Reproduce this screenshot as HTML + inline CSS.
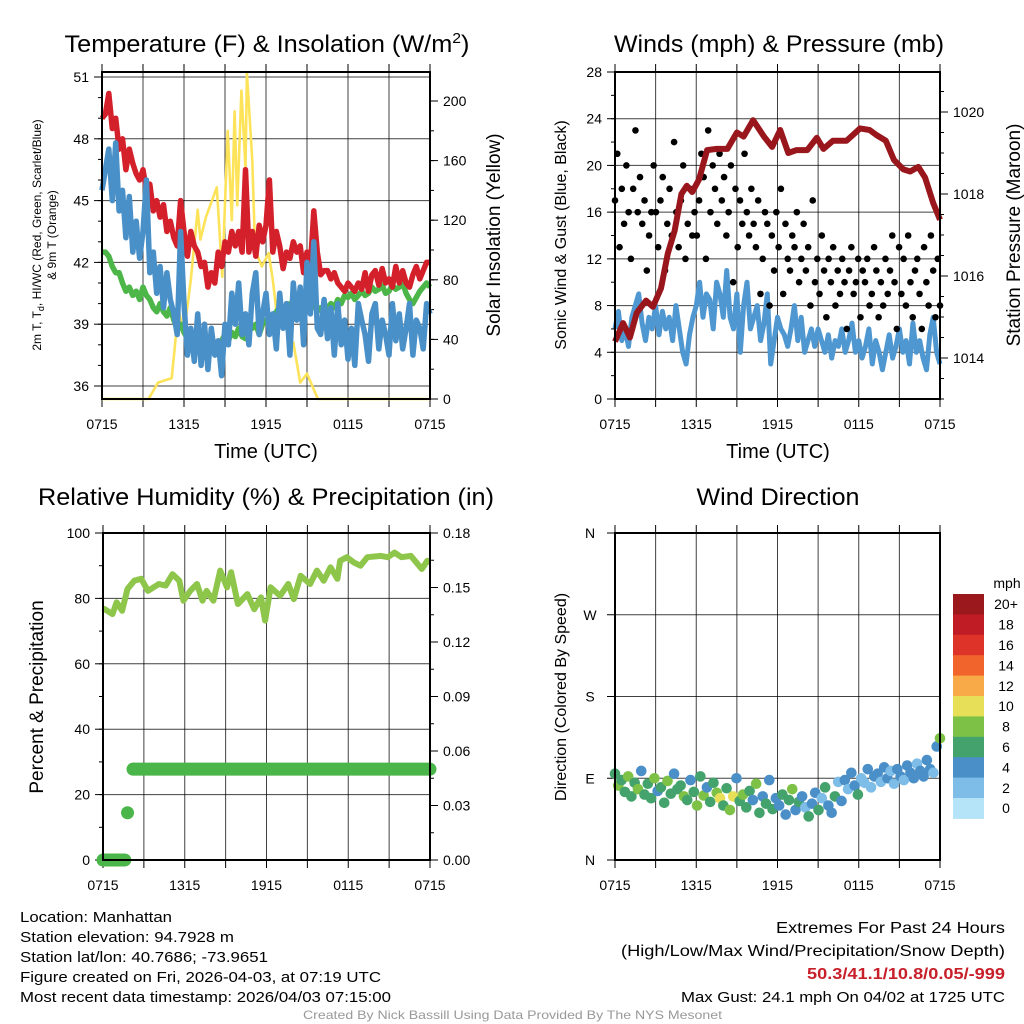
<!DOCTYPE html>
<html><head><meta charset="utf-8"><style>
html,body{margin:0;padding:0;background:#fff;}
svg{display:block;font-family:"Liberation Sans",sans-serif;}
</style></head><body>
<svg id="chart" width="1024" height="1024" viewBox="0 0 1024 1024" xmlns="http://www.w3.org/2000/svg">
<rect width="1024" height="1024" fill="#fff"/>
<g id="layer"></g>
<text x="267" y="52" font-size="24" text-anchor="middle" textLength="405" lengthAdjust="spacingAndGlyphs">Temperature (F) &amp; Insolation (W/m<tspan font-size="15" dy="-9">2</tspan><tspan dy="9">)</tspan></text>
<text x="779" y="52" font-size="24" text-anchor="middle" textLength="330" lengthAdjust="spacingAndGlyphs">Winds (mph) &amp; Pressure (mb)</text>
<text x="266" y="505" font-size="24" text-anchor="middle" textLength="456" lengthAdjust="spacingAndGlyphs">Relative Humidity (%) &amp; Precipitation (in)</text>
<text x="778" y="505" font-size="24" text-anchor="middle" textLength="163" lengthAdjust="spacingAndGlyphs">Wind Direction</text>
<text x="266" y="458" font-size="20" text-anchor="middle">Time (UTC)</text>
<text x="778" y="458" font-size="20" text-anchor="middle">Time (UTC)</text>
<text transform="translate(41,235) rotate(-90)" font-size="12" text-anchor="middle">2m T, T<tspan font-size="9" dy="3">d</tspan><tspan dy="-3">, HI/WC (Red, Green, Scarlet/Blue)</tspan></text>
<text transform="translate(56,235) rotate(-90)" font-size="12" text-anchor="middle">&amp; 9m T (Orange)</text>
<text transform="translate(500,235) rotate(-90)" font-size="19" text-anchor="middle">Solar Insolation (Yellow)</text>
<text transform="translate(566,235) rotate(-90)" font-size="16" text-anchor="middle">Sonic Wind &amp; Gust (Blue, Black)</text>
<text transform="translate(1020,235) rotate(-90)" font-size="19" text-anchor="middle">Station Pressure (Maroon)</text>
<text transform="translate(43,697) rotate(-90)" font-size="19" text-anchor="middle">Percent &amp; Precipitation</text>
<text transform="translate(566,697) rotate(-90)" font-size="16" text-anchor="middle">Direction (Colored By Speed)</text>
<g font-size="15">
<text x="20" y="922" textLength="152" lengthAdjust="spacingAndGlyphs">Location: Manhattan</text>
<text x="20" y="942" textLength="214" lengthAdjust="spacingAndGlyphs">Station elevation: 94.7928 m</text>
<text x="20" y="962" textLength="248" lengthAdjust="spacingAndGlyphs">Station lat/lon: 40.7686; -73.9651</text>
<text x="20" y="982" textLength="361" lengthAdjust="spacingAndGlyphs">Figure created on Fri, 2026-04-03, at 07:19 UTC</text>
<text x="20" y="1002" textLength="371" lengthAdjust="spacingAndGlyphs">Most recent data timestamp: 2026/04/03 07:15:00</text>
</g>
<g font-size="16">
<text x="776" y="933" textLength="229" lengthAdjust="spacingAndGlyphs">Extremes For Past 24 Hours</text>
<text x="621" y="956" textLength="384" lengthAdjust="spacingAndGlyphs">(High/Low/Max Wind/Precipitation/Snow Depth)</text>
<text x="807" y="979" font-weight="bold" fill="#c8202a" textLength="198" lengthAdjust="spacingAndGlyphs">50.3/41.1/10.8/0.05/-999</text>
<text x="681" y="1002" font-size="15" textLength="324" lengthAdjust="spacingAndGlyphs">Max Gust: 24.1 mph On 04/02 at 1725 UTC</text>
</g>
<text x="303" y="1019" font-size="12" fill="#999" textLength="419" lengthAdjust="spacingAndGlyphs">Created By Nick Bassill Using Data Provided By The NYS Mesonet</text>
</svg>
<script>
// ---- data ----
const xTickLabels = ["0715","1315","1915","0115","0715"];
const tempTicks = [36,39,42,45,48,51];
const insolTicks = [0,40,80,120,160,200];
const windTicks = [0,4,8,12,16,20,24,28];
const presTicks = [1014,1016,1018,1020];
const rhTicks = [0,20,40,60,80,100];
const precipTicks = [0,0.03,0.06,0.09,0.12,0.15,0.18];
const precipTickLabels = ["0.00","0.03","0.06","0.09","0.12","0.15","0.18"];
const dirTicks = [0,90,180,270,360];
const dirTickLabels = ["N","E","S","W","N"];
const speedBins = ["0","2","4","6","8","10","12","14","16","18","20+"];
const speedColors = ["#b5e3f8","#7dbde8","#4a8fc7","#44a26c","#7dc247","#e8df58","#f8aa48","#f1652c","#dd3328","#c01c26","#9b181d"];

const tempRed = [49,49.2,50.2,48.5,49,47.5,48,46.5,47.5,46.8,46.3,46,
46.5,45.5,45.8,44.5,45,44.2,44.8,43.5,44,43.2,42.8,45,
43.5,42.3,43.5,42.8,42.5,41.8,42,40.8,41.5,41,42.5,41.8,
43,42.5,43.5,42.8,43.5,42.5,46.5,42.5,43.5,42.3,43.8,43,
43.8,46,42.5,43.5,42.8,41.7,42.5,42.2,43,42.5,42.8,41.5,
42.5,41.8,44.5,42.5,41.4,41.6,41.6,41.2,41.5,41,40.8,40.6,
41,40.8,40.6,41,40.7,41.5,40.6,41.4,41.6,40.9,41.7,41,
41.2,40.8,41.8,41,41.6,41,40.8,41.4,41.8,41.2,41.6,42,42];
const tempGreen = [42.5,42.5,42.3,41.8,41.5,41.5,41,40.6,40.8,40.4,40.6,40.2,
40.8,40.4,40.2,39.8,39.6,40,39.6,39.4,39.8,39.2,38.8,39,
38.6,38.3,38.2,38,37.8,37.6,37.7,37.8,38,37.8,37.6,38.2,
38.5,38.2,38.6,38.4,38.8,38.4,38.3,39,38.8,39,38.5,39,
39.2,39,39.4,39.6,39.8,39.4,39.7,40,39.6,40.2,40.4,40,
40.6,40.2,40,39.6,39.8,39.5,39.8,40,39.8,40.2,40,40.4,
40.3,40.5,40.2,40.4,40.6,40.4,40.5,40.8,40.6,40.7,40.9,40.5,
40.6,40.9,40.7,40.8,41,40.5,40.2,40,40.3,40.6,40.8,41,40.8];
const tempBlue = [45.5,46.5,47.5,45,47.8,44.5,45.5,43.2,45.2,42.5,44,42.2,
43.5,46,41.5,42.5,40.5,41.8,39.8,41.5,40.2,39.5,38.5,43.5,
40,37.5,38.8,37.2,39.5,37,39,36.8,38.8,37.5,38.2,36.5,
39,38,40.5,39,41,38.5,39.5,38,40.5,41.5,38.5,39.5,
40.5,38.5,39.5,37.8,40.5,38.8,40,37.5,41,39.2,40.8,38,
42,39.5,43,38.8,38.5,40.2,38.3,39.8,37.5,40,38,39.2,
37.3,38.8,37,40,39.2,38.5,37.2,39.5,40,37.8,39.2,38.5,
37.5,40,38.2,39.5,37.8,38.8,40,37.5,39.2,38.8,37.8,40,39.5];
const insolHours = [0,3.4,4.1,5.1,5.6,6.0,6.5,7.0,7.2,7.6,8.4,8.8,9.2,9.5,9.7,9.9,10.2,10.5,10.6,11.0,11.2,11.7,12.2,12.5,12.9,13.3,13.8,14.0,14.5,15.0,15.8,24];
const insolValues = [0,0,11,14,60,44,80,127,107,122,142,82,180,120,193,130,207,155,219,160,100,89,98,80,48,58,31,38,11,17,0,0];

const presHours = [0,0.6,1.1,1.6,2.3,2.8,3.4,3.9,4.4,4.9,5.3,5.7,6.2,6.8,7.5,8.3,9.0,9.5,10.2,11.0,11.6,12.2,12.8,13.4,14.2,14.9,15.4,16.1,17.1,18.1,18.8,19.3,20.0,20.6,21.3,21.8,22.4,22.9,23.5,24];
const presValues = [1014.4,1014.85,1014.5,1015.1,1015.4,1015.25,1015.7,1016.55,1017.1,1018,1018.2,1018.05,1018.35,1019.07,1019.1,1019.1,1019.5,1019.4,1019.8,1019.4,1019.15,1019.56,1019.0,1019.07,1019.07,1019.37,1019.1,1019.3,1019.3,1019.6,1019.56,1019.44,1019.3,1018.83,1018.6,1018.55,1018.66,1018.4,1017.78,1017.37];
const windSpeed = [6,7.5,5,6,4.5,7,8,9,6.5,5,7,6,
8,5.5,7.5,6,7,5,8,6,4,3,5.5,7,
8,10,7,9,8.5,6,10,9,7,11,7,6,
9,4,8,10,6,7,8,5,6.5,9,3,5,
7,6,5.5,4.5,6,8,5,7,4,5,6,4.5,
6,5,4,5.5,3.5,5,4.5,6,4,5,6.5,4,
5,3.5,4.5,6,3,5,4,2.5,4,5.5,3.5,4.5,
6,4,5,3,6.5,4,5,3.5,2.5,5.5,7,4,3];
const windGust = [17,21,13,18,15,20,16,12,18,23,16,19,15,17,11,14,16,20,
16,13,17,19,11,15,18,14,22,16,13,17,20,12,15,18,14,16,
14,17,21,19,12,23,16,20,18,15,21,17,19,14,16,20,10,18,
13,17,15,21,16,14,18,15,13,17,9,12,16,15,8,14,11,16,
13,18,9,15,12,11,14,13,16,10,12,15,11,13,8,17,10,12,
9,14,11,7,12,10,13,8,11,9,12,10,6,11,13,9,10,12,
7,11,10,12,8,9,13,11,7,10,8,12,9,11,14,10,6,13,
9,12,8,14,10,7,11,12,9,6,13,10,8,14,11,7,12,8];

const rhHours = [0,0.7,1,1.4,1.8,2.3,2.8,3.3,4.1,4.6,5.1,5.6,5.9,6.4,6.9,7.3,7.6,8.1,8.6,9.1,9.4,9.9,10.6,11.1,11.6,11.9,12.3,13.0,13.6,14.0,14.5,15.2,15.7,16.2,16.7,17.2,17.4,17.9,18.4,18.9,19.4,20.4,20.9,21.4,21.9,22.6,23.4,23.8,24];
const rhValues = [77,75.2,78.8,76.2,82.9,85.4,86,82.3,84.4,83.9,87.4,85.4,79.3,82.3,84.4,79.3,82.3,79.3,88.5,83.4,88,78.3,81.3,76.7,80.3,73.2,83.4,80.8,84.4,79.8,86.9,84.4,88.5,85.4,89.5,86,91.5,92.6,91,90,92.6,93,92.6,94,92.6,93,89,91.5,91];
const precipHours = [0,0.4,0.8,1.2,1.6,1.8,2.2,24];
const precipValues = [0,0,0,0,0,0.026,0.05,0.05];

const dirValues = [95,82,88,75,92,70,85,78,98,72, 84,68,90,76,80,63,87,73,95,78,
82,70,66,88,75,60,92,71,80,64, 85,74,68,60,79,55,70,90,65,72,
58,76,66,84,52,70,62,88,56,68, 60,72,50,66,78,55,64,70,58,48,
62,74,55,68,80,60,52,70,86,65, 88,78,96,82,72,90,85,100,80,92,
95,86,102,90,98,84,100,92,88,104, 96,90,106,98,92,110,100,96,125,134];
const dirSpeeds = [7,8,6,7,9,6,7,8,5,7, 6,7,8,5,7,6,9,7,4,6,
7,8,6,5,7,9,6,8,4,7, 6,9,10,7,6,8,11,5,7,9,
6,7,5,8,6,4,7,5,6,5, 4,6,5,7,8,4,6,5,3,6,
5,4,6,3,7,4,5,6,3,4, 4,3,5,4,6,3,2,4,3,5,
4,3,5,4,3,2,4,5,3,4, 4,5,3,4,4,5,4,3,5,8];

// ---- drawing ----
const NS = "http://www.w3.org/2000/svg";
const layer = document.getElementById("layer");
function mk(tag, attrs, parent){
  const e = document.createElementNS(NS, tag);
  for (const k in attrs) e.setAttribute(k, attrs[k]);
  (parent||layer).appendChild(e);
  return e;
}
function lin(d0,d1,r0,r1){ return v => r0 + (v-d0)*(r1-r0)/(d1-d0); }

const P = {
  temp:{x0:102,x1:430,y0:72,y1:399},
  wind:{x0:615,x1:940,y0:72,y1:399},
  rh:{x0:103,x1:430,y0:533,y1:860},
  dir:{x0:615,x1:940,y0:533,y1:860}
};
function linePath(xs, ys, fx, fy){
  let d = "";
  for (let i=0;i<xs.length;i++) d += (i?"L":"M") + fx(xs[i]).toFixed(1) + "," + fy(ys[i]).toFixed(1);
  return d;
}
function evenHours(n){ const a=[]; for(let i=0;i<n;i++) a.push(i*24/(n-1)); return a; }

function frame(p, key){
  const g = mk("g", {});
  
  
  const fx = lin(0,24,p.x0,p.x1);
  for (let h=3; h<24; h+=3){
    const l = mk("line",{x1:fx(h),x2:fx(h),y1:p.y0,y2:p.y1,stroke:"#000","stroke-width":1,"stroke-opacity":0.75},g);
    
    
  }
  for (let h=0; h<=24; h+=3){
    mk("line",{x1:fx(h),x2:fx(h),y1:p.y0-8,y2:p.y0,stroke:"#000","stroke-width":1},g);
    mk("line",{x1:fx(h),x2:fx(h),y1:p.y1,y2:p.y1+8,stroke:"#000","stroke-width":1},g);
  }
  xTickLabels.forEach((s,i)=>{
    const t = mk("text",{x:fx(i*6),y:p.y1+30,"font-size":14,"text-anchor":"middle"},g);
    t.textContent = s;
    
    
  });
  return {g, fx};
}
function box(p, key){
  const r = mk("rect",{x:p.x0,y:p.y0,width:p.x1-p.x0,height:p.y1-p.y0,fill:"none",stroke:"#000","stroke-width":2});
  
  
}
function yAxis(p, key, ticks, labels, fy, side, minorStep, dmin, dmax, grid){
  const g = mk("g", {});
  
  
  const x = side==="left" ? p.x0 : p.x1;
  const dir = side==="left" ? -1 : 1;
  ticks.forEach((v,i)=>{
    const y = fy(v);
    if (grid) mk("line",{x1:p.x0,x2:p.x1,y1:y,y2:y,stroke:"#000","stroke-width":1,"stroke-opacity":0.75},g);
    mk("line",{x1:x,x2:x+dir*8,y1:y,y2:y,stroke:"#000","stroke-width":1},g);
    const t = mk("text",{x:x+dir*13,y:y+5,"font-size":14,"text-anchor":side==="left"?"end":"start"},g);
    t.textContent = labels[i];
    
    
  });
  if (minorStep){
    for (let v=dmin; v<=dmax+1e-9; v+=minorStep){
      const y=fy(v);
      if (y<p.y0-0.5||y>p.y1+0.5) continue;
      mk("line",{x1:x,x2:x+dir*4,y1:y,y2:y,stroke:"#000","stroke-width":1},g);
    }
  }
}

// Panel 1: temperature
(function(){
  const p=P.temp;
  const {fx} = frame(p,"temp");
  const fy = lin(36,51,386,77);
  const fyI = lin(0,200,399,101);
  yAxis(p,"temp",tempTicks,tempTicks.map(String),fy,"left",1,35,52,true);
  yAxis(p,"temp",insolTicks,insolTicks.map(String),fyI,"right",20,0,220,false);
  const hrs = evenHours(tempRed.length);
  const y1 = mk("path",{d:linePath(insolHours,insolValues,fx,fyI),fill:"none",stroke:"#fde35a","stroke-width":2.6,"stroke-linejoin":"round"});
  
  
  const gr = mk("path",{d:linePath(hrs,tempGreen,fx,fy),fill:"none",stroke:"#4cb648","stroke-width":5.5,"stroke-linejoin":"round"});
  
  
  const rd = mk("path",{d:linePath(hrs,tempRed,fx,fy),fill:"none",stroke:"#d3202a","stroke-width":5.5,"stroke-linejoin":"round"});
  
  
  const bl = mk("path",{d:linePath(hrs,tempBlue,fx,fy),fill:"none",stroke:"#4a90c8","stroke-width":5.5,"stroke-linejoin":"round"});
  
  
  box(p,"temp");
})();

// Panel 2: winds
(function(){
  const p=P.wind;
  const {fx} = frame(p,"wind");
  const fy = lin(0,28,399,72);
  const fyP = lin(1014,1020,358,112);
  yAxis(p,"wind",windTicks,windTicks.map(String),fy,"left",2,0,28,true);
  yAxis(p,"wind",presTicks,presTicks.map(String),fyP,"right",0.5,1013,1021,false);
  const hrs = evenHours(windSpeed.length);
  const ws = mk("path",{d:linePath(hrs,windSpeed,fx,fy),fill:"none",stroke:"#4f97d0","stroke-width":5,"stroke-linejoin":"round"});
  
  
  const gh = evenHours(windGust.length);
  windGust.forEach((v,i)=>{
    const c = mk("circle",{cx:fx(gh[i]),cy:fy(v),r:3.3,fill:"#000"});
    
    
  });
  const pr = mk("path",{d:linePath(presHours,presValues,fx,fyP),fill:"none",stroke:"#99171c","stroke-width":6,"stroke-linejoin":"round"});
  
  
  box(p,"wind");
})();

// Panel 3: RH & precip
(function(){
  const p=P.rh;
  const {fx} = frame(p,"rh");
  const fy = lin(0,100,860,533);
  const fyR = lin(0,0.18,860,533);
  yAxis(p,"rh",rhTicks,rhTicks.map(String),fy,"left",10,0,100,true);
  yAxis(p,"rh",precipTicks,precipTickLabels,fyR,"right",0.015,0,0.18,false);
  const rh = mk("path",{d:linePath(rhHours,rhValues,fx,fy),fill:"none",stroke:"#8ec64b","stroke-width":6,"stroke-linejoin":"round"});
  
  
  for (let i=0;i<precipHours.length;i++){
    const c = mk("circle",{cx:fx(precipHours[i]),cy:fyR(precipValues[i]),r:6.5,fill:"#4ab548"});
    
    
    if (i>0 && precipValues[i]===precipValues[i-1]){
      const l = mk("line",{x1:fx(precipHours[i-1]),x2:fx(precipHours[i]),y1:fyR(precipValues[i]),y2:fyR(precipValues[i]),stroke:"#4ab548","stroke-width":13});
      
      
    }
  }
  box(p,"rh");
})();

// Panel 4: wind direction
(function(){
  const p=P.dir;
  const {fx} = frame(p,"dir");
  const fy = lin(0,360,860,533);
  const g = mk("g",{});
  dirTicks.forEach((v,i)=>{
    const y=fy(v);
    mk("line",{x1:p.x0,x2:p.x1,y1:y,y2:y,stroke:"#000","stroke-width":1,"stroke-opacity":0.75},g);
    mk("line",{x1:p.x0,x2:p.x0-8,y1:y,y2:y,stroke:"#000","stroke-width":1},g);
    const t = mk("text",{x:590,y:y+5,"font-size":14,"text-anchor":"middle"},g);
    t.textContent = dirTickLabels[i];
    
    
  });
  const hrs = evenHours(dirValues.length);
  dirValues.forEach((d,i)=>{
    const bin = Math.min(10, Math.floor(dirSpeeds[i]/2));
    const c = mk("circle",{cx:fx(hrs[i]),cy:fy(d),r:5.3,fill:speedColors[bin]});
    
    
  });
  box(p,"dir");
  const cb = mk("g",{});
  
  
  const top=594, bh=20.4;
  const mt = mk("text",{x:1007,y:588,"font-size":14,"text-anchor":"middle"},cb);
  mt.textContent = "mph";
  
  
  for (let k=0;k<speedBins.length;k++){
    const idx = speedBins.length-1-k;
    const r = mk("rect",{x:953,y:top+k*bh,width:31,height:bh+0.5,fill:speedColors[idx]},cb);
    
    
    const t = mk("text",{x:1006,y:top+k*bh+bh/2+5,"font-size":14,"text-anchor":"middle"},cb);
    t.textContent = speedBins[idx];
    
    
  }
})();
</script>
</body></html>
